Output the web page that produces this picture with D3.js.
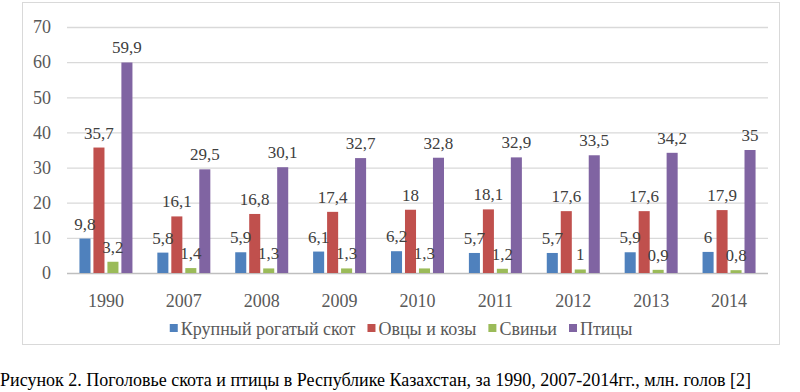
<!DOCTYPE html>
<html>
<head>
<meta charset="utf-8">
<script src="https://cdn.jsdelivr.net/npm/d3@7"></script>
<style>
    body { margin: 0; background: #fff; }
</style>
</head>
<body>
<div id="chart"></div>
<script>
//Datos
const years = ['1990', '2007', '2008', '2009', '2010', '2011', '2012', '2013', '2014'];
const series = ['Крупный рогатый скот', 'Овцы и козы', 'Свиньи', 'Птицы'];
const cattle = [9.8, 5.8, 5.9, 6.1, 6.2, 5.7, 5.7, 5.9, 6];
const sheep = [35.7, 16.1, 16.8, 17.4, 18, 18.1, 17.6, 17.6, 17.9];
const pigs = [3.2, 1.4, 1.3, 1.3, 1.3, 1.2, 1, 0.9, 0.8];
const birds = [59.9, 29.5, 30.1, 32.7, 32.8, 32.9, 33.5, 34.2, 35];
const yTicks = [0, 10, 20, 30, 40, 50, 60, 70];
const caption = 'Рисунок 2. Поголовье скота и птицы в Республике Казахстан, за 1990, 2007-2014гг., млн. голов [2]';

//Colores y fuente
const colors = ['#4F81BD', '#C0504D', '#9BBB59', '#8064A2'];
const FONT = 'Liberation Serif';

let values = [cattle, sheep, pigs, birds];
let data = years.map(function(y, i) {
    return { year: y, vals: series.map(function(s, j) { return { key: s, value: values[j][i] }; }) };
});

let width = 800, height = 392;
let plot = { left: 67, right: 768, top: 27, bottom: 273 };

let svg = d3.select('#chart')
    .append('svg')
        .attr('width', width)
        .attr('height', height);

//Marco
svg.append('rect')
    .attr('x', 22.5).attr('y', 2.5)
    .attr('width', 757).attr('height', 342)
    .attr('fill', 'none')
    .attr('stroke', '#d9d9d9');

let x0 = d3.scaleBand()
    .domain(years)
    .range([plot.left, plot.right]);

let x1 = d3.scaleBand()
    .domain(series)
    .range([0, x0.bandwidth()])
    .paddingInner(0.21)
    .paddingOuter(0.89);

let y = d3.scaleLinear()
    .domain([0, 70])
    .range([plot.bottom, plot.top]);

let color = d3.scaleOrdinal()
    .domain(series)
    .range(colors);

// Eje Y
let yAxis = function(g) {
    g.call(d3.axisLeft(y).tickValues(yTicks).tickSize(-(plot.right - plot.left)).tickPadding(16));
    g.attr('font-family', FONT).attr('font-size', 18);
    g.call(function(g) { g.select('.domain').remove(); });
    g.call(function(g) {
        g.selectAll('.tick line')
            .attr('stroke', function(d) { return d == 0 ? '#bfbfbf' : '#d9d9d9'; })
            .attr('stroke-width', 1.3);
    });
    g.call(function(g) {
        g.selectAll('.tick text')
            .attr('fill', '#595959')
            .attr('font-family', FONT);
    });
}

svg.append('g')
    .attr('transform', 'translate(' + plot.left + ',0)')
    .call(yAxis);

// Eje X
let xAxis = function(g) {
    g.call(d3.axisBottom(x0).tickSize(0).tickPadding(21));
    g.attr('font-family', FONT).attr('font-size', 18);
    g.call(function(g) { g.select('.domain').remove(); });
    g.call(function(g) {
        g.selectAll('.tick text')
            .attr('fill', '#595959')
            .attr('font-family', FONT);
    });
}

svg.append('g')
    .attr('transform', 'translate(0,' + plot.bottom + ')')
    .call(xAxis);

// Barras
let groups = svg.append('g')
    .selectAll('g')
    .data(data)
    .enter()
    .append('g')
    .attr('transform', function(d) { return 'translate(' + x0(d.year) + ',0)'; });

groups.selectAll('rect')
    .data(function(d) { return d.vals; })
    .enter()
    .append('rect')
    .attr('x', function(d) { return x1(d.key); })
    .attr('width', x1.bandwidth())
    .attr('y', function(d) { return y(d.value); })
    .attr('height', function(d) { return y(0) - y(d.value); })
    .attr('fill', function(d) { return color(d.key); });

groups.selectAll('text')
    .data(function(d) { return d.vals; })
    .enter()
    .append('text')
    .attr('x', function(d) { return x1(d.key) + x1.bandwidth() / 2; })
    .attr('y', function(d) { return y(d.value) - 9; })
    .attr('text-anchor', 'middle')
    .attr('fill', '#404040')
    .attr('font-family', FONT)
    .attr('font-size', 17)
    .text(function(d) { return String(d.value).replace('.', ','); });

// Leyenda
let legend = svg.append('g');
let lx = 138;
series.forEach(function(s, i) {
    let item = legend.append('g').attr('transform', 'translate(' + lx + ',0)');
    item.append('rect')
        .attr('x', 0).attr('y', 324)
        .attr('width', 8).attr('height', 8)
        .attr('fill', color(s));
    let t = item.append('text')
        .attr('x', 11).attr('y', 335)
        .attr('fill', '#595959')
        .attr('font-family', FONT)
        .attr('font-size', 18)
        .text(s);
    lx += 11 + t.node().getComputedTextLength() + 12;
});
// centrar leyenda en el marco
let lw = lx - 12 - 138;
legend.attr('transform', 'translate(' + (401 - lw / 2 - 138) + ',0)');

// Pie de figura
svg.append('text')
    .attr('x', 0).attr('y', 386)
    .attr('fill', '#000')
    .attr('font-family', FONT)
    .attr('font-size', 18)
    .text(caption);
</script>
</body>
</html>
